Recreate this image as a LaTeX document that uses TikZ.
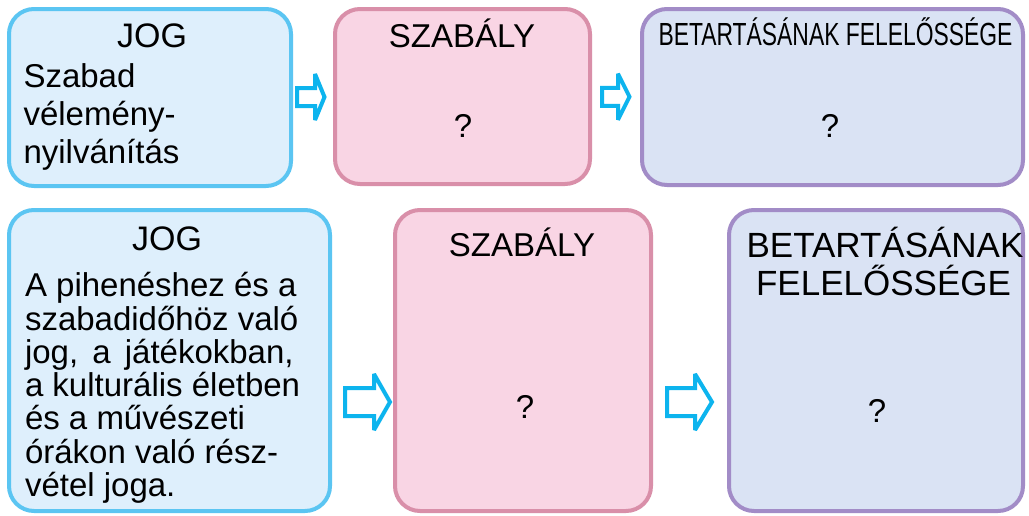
\documentclass[tikz,border=0pt]{standalone}
\usepackage{fontspec}
\usepackage{graphicx}
\setmainfont{Liberation Sans}
\usetikzlibrary{calc}
\definecolor{jogfill}{HTML}{DEEFFC}
\definecolor{jogdraw}{HTML}{5BC5F2}
\definecolor{szfill}{HTML}{F9D5E4}
\definecolor{szdraw}{HTML}{D98FA9}
\definecolor{betfill}{HTML}{DAE3F4}
\definecolor{betdraw}{HTML}{A28CC7}
\definecolor{arrcyan}{HTML}{0DB4EE}
\newcommand\fsz[1]{\fontsize{#1}{#1}\selectfont}
\begin{document}
\begin{tikzpicture}[x=1pt,y=-1pt,
  box/.style={rectangle, rounded corners=25pt, line width=4pt, inner sep=0pt},
  jogbox/.style={box, draw=jogdraw, fill=jogfill},
  szbox/.style={box, draw=szdraw, fill=szfill},
  betbox/.style={box, draw=betdraw, fill=betfill},
  txt/.style={inner sep=0pt, outer sep=0pt, text=black},
  body/.style={txt, anchor=base west, font=\fsz{33}},
  arrowline/.style={draw=arrcyan, fill=white, line width=4pt, line join=miter, miter limit=2},
  pics/barrow/.style n args={5}{code={
    \draw[arrowline] (-#1,-#3) -- (#2,-#3) -- (#2,-#4) -- (#5,0) -- (#2,#4) -- (#2,#3) -- (-#1,#3) -- cycle;}}
]
\useasboundingbox (0,0) rectangle (1029,515);
\fill[white] (0,0) rectangle (1029,515);

% top row boxes
\node[jogbox, minimum width=282pt, minimum height=177pt] (j1) at (150,97.5) {};
\node[szbox,  minimum width=255pt, minimum height=175pt] (s1) at (462.5,96.5) {};
\node[betbox, minimum width=381pt, minimum height=176pt] (b1) at (832.5,97) {};
% bottom row boxes
\node[jogbox, minimum width=321pt, minimum height=301pt] (j2) at (169.5,360.5) {};
\node[szbox,  minimum width=256pt, minimum height=301pt] (s2) at (523,360.5) {};
\node[betbox, minimum width=294pt, minimum height=301pt] (b2) at (876,360.5) {};

% block arrows between the boxes
\coordinate (a1) at ($(j1.east)!0.5!(s1.west)+(-1.5,0)$);
\coordinate (a2) at ($(s1.east)!0.5!(b1.west)+(0.5,0)$);
\coordinate (a3) at ($(j2.east)!0.5!(s2.west)+(5.5,41.5)$);
\coordinate (a4) at ($(s2.east)!0.5!(b2.west)+(0,41.5)$);
\pic at (a1) {barrow={14.5}{3.5}{9}{23}{13}};
\pic at (a2) {barrow={14.5}{1.5}{9}{23}{13}};
\pic at (a3) {barrow={23}{6}{14}{28}{22}};
\pic at (a4) {barrow={23}{5}{14}{28}{22}};

% top row texts
\node[txt, anchor=base, font=\fsz{34}] (t1) at (152,47) {JOG};
\node[body] (t1a) at (23.5,87.5) {Szabad};
\node[body] (t1b) at (23.5,125.5) {vélemény-};
\node[body] (t1c) at (23.5,163.5) {nyilvánítás};
\node[txt, anchor=base, font=\fsz{33}] (t2) at (462,47) {SZABÁLY};
\node[txt, anchor=base, font=\fsz{33}] (q2) at (463,137) {?};
\node[txt, anchor=base, font=\fsz{32}] (t3) at (835.5,45) {\scalebox{0.715}[1]{BETARTÁSÁNAK FELELŐSSÉGE}};
\node[txt, anchor=base, font=\fsz{33}] (q3) at (830,137) {?};

% bottom row texts
\node[txt, anchor=base, font=\fsz{34}] (t4) at (167,250) {JOG};
\node[body] (t4l0) at (25,296.7) {A pihenéshez és a};
\node[body] (t4l1) at (25,330.0) {szabadidőhöz való};
\node[body] (t4l2) at (25,363.3) {jog,\hspace{5pt} a\hspace{5pt} játékokban,};
\node[body] (t4l3) at (25,396.6) {a kulturális életben};
\node[body] (t4l4) at (25,429.9) {és a művészeti};
\node[body] (t4l5) at (25,463.2) {órákon való rész-};
\node[body] (t4l6) at (25,496.5) {vétel joga.};
\node[txt, anchor=base, font=\fsz{33}] (t5) at (522,256.7) {SZABÁLY};
\node[txt, anchor=base, font=\fsz{33}] (q5) at (525,418) {?};
\node[txt, anchor=base, font=\fsz{35}] (t6a) at (885,257) {BETARTÁSÁNAK};
\node[txt, anchor=base, font=\fsz{35}] (t6b) at (883.5,295) {FELELŐSSÉGE};
\node[txt, anchor=base, font=\fsz{33}] (q6) at (877,422) {?};
\end{tikzpicture}
\end{document}
